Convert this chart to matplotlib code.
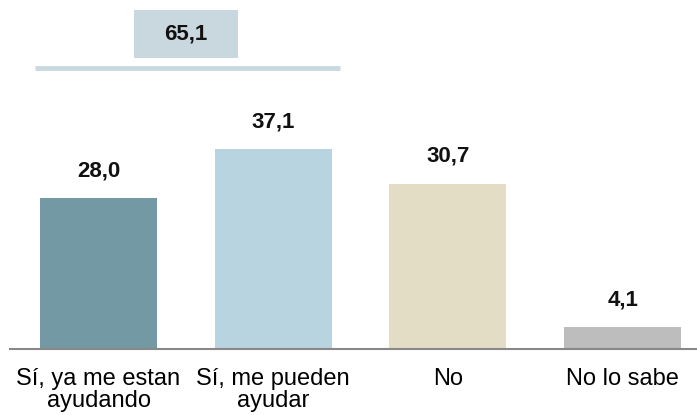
import matplotlib.pyplot as plt
from matplotlib.patches import Rectangle

categories = ["Sí, ya me estan\nayudando", "Sí, me pueden\nayudar", "No", "No lo sabe"]
values = [28.0, 37.1, 30.7, 4.1]
total_si = 65.1
colors = ["#7399A4", "#B8D4E0", "#E3DDC5", "#BDBDBD"]

plt.rcParams['font.family'] = ['Liberation Sans', 'DejaVu Sans']

fig = plt.figure(figsize=(6.97, 4.15), dpi=100)
ax = fig.add_axes([10 / 697, 66 / 415, 687 / 697, 349 / 415])

x = list(range(len(values)))
ax.bar(x, values, width=0.67, color=colors, zorder=2)

for xi, v in zip(x, values):
    ax.text(xi, v + 3.1, f"{v:.1f}".replace(".", ","), ha="center", va="bottom",
            fontsize=16, fontweight="bold", color="#111111")

# bracket over the two "Sí" bars with the combined share
ax.plot([-0.363, 1.382], [52.1, 52.1], color="#C9D9DF", linewidth=3.5,
        solid_capstyle="butt", clip_on=False)
ax.add_patch(Rectangle((0.203, 54.0), 0.595, 8.9, facecolor="#C9D8DE",
                       edgecolor="none", clip_on=False))
ax.text(0.5, 58.45, f"{total_si:.1f}".replace(".", ","), ha="center", va="center",
        fontsize=16, fontweight="bold", color="#111111")

ax.set_xlim(-0.507, 3.426)
ax.set_ylim(0, 64.75)

ax.set_xticks(x)
ax.set_xticklabels(categories, fontsize=17, linespacing=1.0)
ax.tick_params(axis="x", length=0, pad=14)
ax.set_yticks([])

for side in ["top", "right", "left"]:
    ax.spines[side].set_visible(False)
ax.spines["bottom"].set_color("#888888")
ax.spines["bottom"].set_linewidth(1.5)

fig.savefig("out.png", dpi=100)
